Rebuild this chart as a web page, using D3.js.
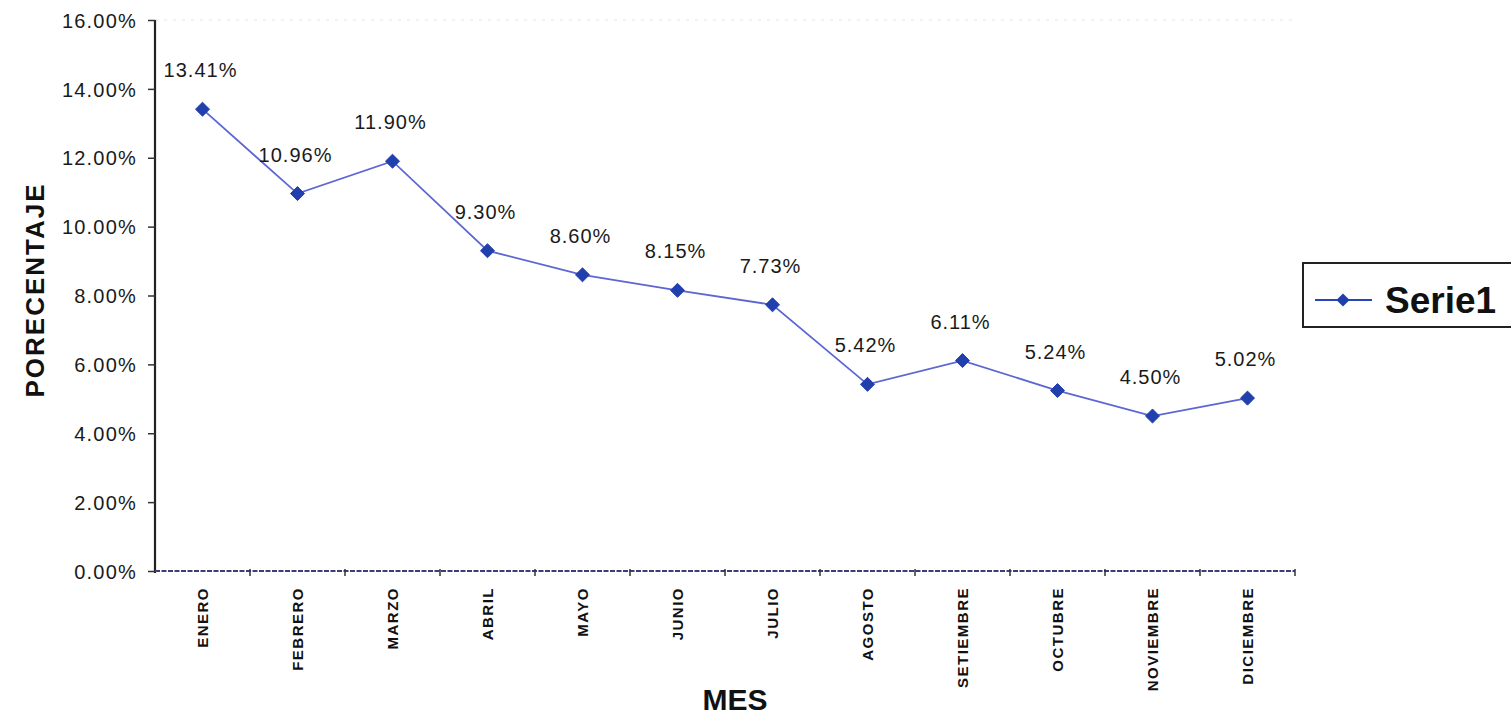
<!DOCTYPE html>
<html>
<head>
<meta charset="utf-8">
<script src="https://cdn.jsdelivr.net/npm/d3@7"></script>
<style>
  html, body { margin: 0; padding: 0; background: #fff; }
  svg { display: block; }
  text { font-family: "Liberation Sans", Arial, sans-serif; }
</style>
</head>
<body>
<svg id="chart" width="1511" height="717"></svg>
<script>
// Monthly percentages
const months = ["ENERO", "FEBRERO", "MARZO", "ABRIL", "MAYO", "JUNIO", "JULIO",
  "AGOSTO", "SETIEMBRE", "OCTUBRE", "NOVIEMBRE", "DICIEMBRE"];
const serie1 = [13.41, 10.96, 11.90, 9.30, 8.60, 8.15, 7.73, 5.42, 6.11, 5.24, 4.50, 5.02];
const yTicks = [0, 2, 4, 6, 8, 10, 12, 14, 16];
const seriesName = "Serie1";
const yTitle = "PORECENTAJE";
const xTitle = "MES";

const svg = d3.select("#chart");
const plot = { left: 155, right: 1295, top: 20, bottom: 571 };

const x = d3.scaleBand().domain(months).range([plot.left, plot.right]);
const y = d3.scaleLinear().domain([0, 16]).range([plot.bottom, plot.top]);
const fmt = v => v.toFixed(2) + "%";

// faint top border of the plot area
svg.append("line")
  .attr("x1", plot.left).attr("x2", plot.right)
  .attr("y1", plot.top).attr("y2", plot.top)
  .attr("stroke", "#e4e4e4").attr("stroke-width", 1)
  .attr("stroke-dasharray", "3,6");

// Y axis
const yAxis = svg.append("g")
  .attr("transform", `translate(${plot.left},0)`)
  .call(d3.axisLeft(y).tickValues(yTicks).tickFormat(fmt).tickSize(7).tickPadding(11));
yAxis.select(".domain").attr("stroke", "#222").attr("stroke-width", 2.2)
  .attr("d", `M0,${plot.top}V${plot.bottom + 2}`);
yAxis.selectAll(".tick line").attr("stroke", "#333").attr("stroke-width", 1.5);
yAxis.selectAll(".tick text")
  .attr("font-size", 20).attr("fill", "#1a1a1a")
  .style("letter-spacing", "1.2px")
  .attr("dy", "0.36em");

// X axis with ticks on band boundaries
const xg = svg.append("g").attr("transform", `translate(0,${plot.bottom})`);
xg.append("line")
  .attr("x1", plot.left).attr("x2", plot.right)
  .attr("stroke", "#3a3f78").attr("stroke-width", 2)
  .attr("stroke-dasharray", "5,1.5");
const bounds = months.map(m => x(m)).concat([plot.right]).slice(1);
xg.selectAll("line.tk").data(bounds).join("line")
  .attr("class", "tk")
  .attr("x1", d => d).attr("x2", d => d)
  .attr("y1", -2).attr("y2", 5)
  .attr("stroke", "#333").attr("stroke-width", 1.5);
xg.selectAll("text.cat").data(months).join("text")
  .attr("class", "cat")
  .attr("transform", d => `translate(${x(d) + x.bandwidth() / 2 + 5},16) rotate(-90)`)
  .attr("text-anchor", "end")
  .attr("font-size", 15).attr("font-weight", "bold").attr("fill", "#111")
  .style("letter-spacing", "1.5px")
  .text(d => d);

// Axis titles
svg.append("text")
  .attr("transform", "translate(44,290) rotate(-90)")
  .attr("text-anchor", "middle")
  .attr("font-size", 26).attr("font-weight", "bold").attr("fill", "#111")
  .style("letter-spacing", "2px")
  .text(yTitle);
svg.append("text")
  .attr("x", 735).attr("y", 710)
  .attr("text-anchor", "middle")
  .attr("font-size", 30).attr("font-weight", "bold").attr("fill", "#111")
  .text(xTitle);

// Series line
const cx = d => x(d) + x.bandwidth() / 2;
const line = d3.line().x((d, i) => cx(months[i])).y(d => y(d));
svg.append("path")
  .datum(serie1)
  .attr("d", line)
  .attr("fill", "none")
  .attr("stroke", "#5d66d2").attr("stroke-width", 1.8);

// Diamond markers
const diamond = d3.symbol().type(d3.symbolDiamond2).size(125);
svg.selectAll("path.mk").data(serie1).join("path")
  .attr("class", "mk")
  .attr("d", diamond)
  .attr("transform", (d, i) => `translate(${cx(months[i])},${y(d)})`)
  .attr("fill", "#2140ae").attr("stroke", "#2140ae").attr("stroke-width", 1);

// Value labels
svg.selectAll("text.val").data(serie1).join("text")
  .attr("class", "val")
  .attr("x", (d, i) => cx(months[i]) - 2)
  .attr("y", d => y(d) - 32)
  .attr("text-anchor", "middle")
  .attr("font-size", 20).attr("fill", "#1a1a1a")
  .style("letter-spacing", "1px")
  .text(fmt);

// Legend
const lg = svg.append("g");
lg.append("rect")
  .attr("x", 1303).attr("y", 263).attr("width", 230).attr("height", 64)
  .attr("fill", "#fff").attr("stroke", "#222").attr("stroke-width", 2);
lg.append("line")
  .attr("x1", 1315).attr("x2", 1372).attr("y1", 300).attr("y2", 300)
  .attr("stroke", "#2a45b8").attr("stroke-width", 2);
lg.append("path")
  .attr("d", d3.symbol().type(d3.symbolDiamond2).size(110))
  .attr("transform", "translate(1343,300)")
  .attr("fill", "#1f3fae");
lg.append("text")
  .attr("x", 1385).attr("y", 313)
  .attr("font-size", 37).attr("font-weight", "bold").attr("fill", "#111")
  .text(seriesName);
</script>
</body>
</html>
